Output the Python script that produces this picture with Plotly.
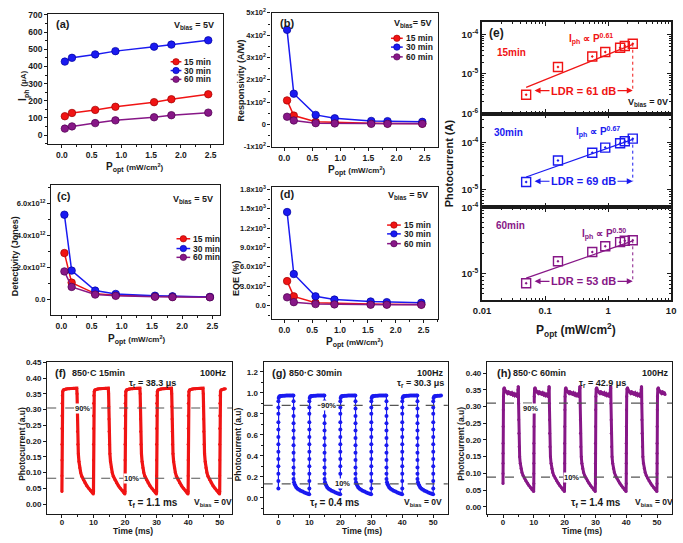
import numpy as np
import plotly.graph_objects as go

W, H = 683, 543
FONT = "Liberation Sans"
RED, BLUE, PURPLE = "#f01414", "#1a1af0", "#871787"
RED_D, BLUE_D, PURPLE_D = "#a00000", "#0000a0", "#500050"
INK = "#1a1a1a"

# ---------------- data: panels (a)-(d) ----------------
p_opt = [0.05, 0.17, 0.56, 0.90, 1.55, 1.84, 2.46]
names = ["15 min", "30 min", "60 min"]
iph_15 = [110, 129, 147, 165, 192, 209, 238]
iph_30 = [428, 450, 470, 489, 515, 527, 552]
iph_60 = [38, 51, 70, 86, 104, 116, 131]
resp_15 = [108, 40, 12, 9, 6, 5, 4]
resp_30 = [424, 138, 43, 28, 16, 15, 12]
resp_60 = [35, 18, 6, 5, 3, 3, 3]
det_15 = [2.9e12, 1.05e12, 0.36e12, 0.26e12, 0.19e12, 0.17e12, 0.15e12]
det_30 = [5.3e12, 1.8e12, 0.55e12, 0.34e12, 0.23e12, 0.19e12, 0.15e12]
det_60 = [1.75e12, 0.78e12, 0.30e12, 0.22e12, 0.16e12, 0.14e12, 0.13e12]
eqe_15 = [377, 140, 40, 30, 20, 18, 15]
eqe_30 = [1450, 487, 140, 90, 60, 50, 40]
eqe_60 = [125, 50, 20, 15, 10, 10, 8]

# ---------------- data: panel (e) ----------------
e_p = [0.05, 0.16, 0.56, 0.90, 1.55, 1.84, 2.46]
pc_15 = [3.0e-6, 1.5e-5, 2.75e-5, 3.6e-5, 4.6e-5, 5.1e-5, 5.8e-5]
pc_30 = [1.45e-5, 4.1e-5, 6.0e-5, 7.7e-5, 9.5e-5, 1.05e-4, 1.19e-4]
pc_60 = [7.2e-6, 1.55e-5, 2.13e-5, 2.6e-5, 3.0e-5, 3.15e-5, 3.2e-5]
fit_x = [0.05, 2.46]
fit_15 = [4.6e-6, 5.6e-5]
fit_30 = [1.84e-5, 1.15e-4]
fit_60 = [8.6e-6, 3.13e-5]
ldr_x = [0.068, 2.46]
ldr_y = [3.8e-6, 1.5e-5, 7.7e-6]
ldr_txt = ["LDR = 61 dB", "LDR = 69 dB", "LDR = 53 dB"]
exps = ["0.61", "0.67", "0.50"]

# ---------------- data: panels (f)-(h), one period ----------------
cycle_starts = [0, 10, 20, 30, 40, 50]
f_cyc_t = [0, 0, 0, 0, 0, 0, 0.05, 0.12, 0.25, 0.45, 0.8, 1.3, 1.8, 2.3, 2.8, 3.3, 3.8, 4.3, 4.7,
           4.8, 4.85, 4.9, 4.95, 5.05, 5.2, 5.4, 5.65, 5.95, 6.3, 6.8, 7.3, 7.9, 8.5, 9.1, 9.6, 9.95]
f_cyc_v = [0.04, 0.09, 0.14, 0.19, 0.24, 0.28, 0.32, 0.345, 0.357, 0.362, 0.364, 0.365, 0.366, 0.366,
           0.367, 0.367, 0.368, 0.368, 0.368, 0.35, 0.31, 0.27, 0.23, 0.19, 0.16, 0.135, 0.115, 0.10,
           0.088, 0.077, 0.068, 0.058, 0.05, 0.043, 0.037, 0.032]
f_tmax = 52.2
g_cyc_t = [0] * 13 + [0.1, 0.3, 0.6, 1.0, 1.5, 2.0, 2.5, 3.0, 3.5, 4.0, 4.5, 4.85] + [4.9] * 12 + \
          [5.05, 5.25, 5.5, 5.8, 6.2, 6.7, 7.2, 7.8, 8.4, 9.0, 9.5, 9.95]
g_cyc_v = [0.09, 0.16, 0.23, 0.30, 0.37, 0.44, 0.51, 0.58, 0.65, 0.72, 0.80, 0.86, 0.92] + \
          [0.95, 0.965, 0.97, 0.97, 0.972, 0.972, 0.973, 0.973, 0.974, 0.974, 0.975, 0.975] + \
          [0.92, 0.85, 0.78, 0.71, 0.64, 0.57, 0.50, 0.43, 0.36, 0.29, 0.23, 0.18] + \
          [0.15, 0.13, 0.115, 0.10, 0.088, 0.077, 0.068, 0.06, 0.052, 0.045, 0.04, 0.035]
g_tmax = 52.5
h_cyc_t = [0, 0, 0, 0, 0, 0.03, 0.08, 0.15, 0.25, 0.4, 0.6, 0.85, 1.1, 1.4, 1.7, 2.0, 2.3, 2.6, 2.9,
           3.2, 3.5, 3.8, 4.1, 4.4, 4.6, 4.75, 4.85, 4.95, 5.0, 5.05, 5.1, 5.15, 5.25, 5.4, 5.6, 5.85,
           6.15, 6.5, 6.9, 7.4, 7.9, 8.4, 8.9, 9.4, 9.95]
h_cyc_v = [0.07, 0.10, 0.13, 0.16, 0.19, 0.24, 0.29, 0.33, 0.352, 0.356, 0.35, 0.345, 0.343, 0.34,
           0.345, 0.338, 0.342, 0.336, 0.34, 0.335, 0.338, 0.333, 0.336, 0.332, 0.33, 0.335, 0.35,
           0.36, 0.355, 0.31, 0.26, 0.22, 0.18, 0.15, 0.13, 0.115, 0.103, 0.094, 0.086, 0.078,
           0.071, 0.064, 0.058, 0.052, 0.046]
h_tmax = 52.6
levels_f = [0.305, 0.082]
levels_g = [0.88, 0.133]
levels_h = [0.31, 0.089]


def tile(ct, cv, starts, tmax):
    t, v = [], []
    for s in starts:
        for a, b in zip(ct, cv):
            if s + a <= tmax:
                t.append(s + a)
                v.append(b)
    return t, v


def dx(px):
    return px / W


def dy(py):
    return 1 - py / H


def xn(k):
    return "xaxis" if k == 1 else f"xaxis{k}"


def yn(k):
    return "yaxis" if k == 1 else f"yaxis{k}"


def xr(k):
    return "x" if k == 1 else f"x{k}"


def yr(k):
    return "y" if k == 1 else f"y{k}"


# panel boxes in pixels: left, right, top, bottom
boxes = {
    1: (40, 218, 7, 140), 2: (268, 438, 6, 143), 3: (43, 215, 182, 315), 4: (268, 438, 184, 319),
    5: (483, 676, 15, 109), 6: (483, 676, 109, 205), 7: (483, 676, 205, 300),
    8: (39, 228, 363, 518), 9: (260, 448, 363, 518), 10: (488, 677, 363, 518),
}

fig = go.Figure()
layout = dict(width=W, height=H, margin=dict(l=0, r=0, t=0, b=0), paper_bgcolor="white",
              plot_bgcolor="white", showlegend=False,
              font=dict(family=FONT, size=9, color=INK, weight="bold"))


def base_axis(size=8.5):
    return dict(showline=True, linecolor=INK, linewidth=1.2, mirror=True, ticks="outside",
                ticklen=3, tickwidth=1, tickcolor=INK, showgrid=False, zeroline=False,
                tickfont=dict(size=size, family=FONT, weight="bold", color=INK))


for k, (l, r, t, b) in boxes.items():
    layout[xn(k)] = dict(domain=[dx(l), dx(r)], anchor=yr(k), **base_axis())
    layout[yn(k)] = dict(domain=[dy(b), dy(t)], anchor=xr(k), **base_axis())

xt = [0, 0.5, 1.0, 1.5, 2.0, 2.5]
xtt = ["0.0", "0.5", "1.0", "1.5", "2.0", "2.5"]
for k, rng in zip([1, 2, 3, 4], [[-0.23, 2.70], [-0.227, 2.74], [-0.17, 2.62], [-0.23, 2.76]]):
    layout[xn(k)].update(range=rng, tickvals=xt, ticktext=xtt,
                         minor=dict(ticks="outside", ticklen=2, dtick=0.25, tick0=0, tickcolor=INK))
layout["yaxis"].update(range=[-51, 706], tickvals=[0, 100, 200, 300, 400, 500, 600, 700],
                       minor=dict(ticks="outside", ticklen=2, dtick=50, tick0=0, tickcolor=INK))
layout["yaxis2"].update(range=[-100, 500], tickvals=[-100, 0, 100, 200, 300, 400, 500],
                        ticktext=["-1x10<sup>2</sup>", "0", "1x10<sup>2</sup>", "2x10<sup>2</sup>",
                                  "3x10<sup>2</sup>", "4x10<sup>2</sup>", "5x10<sup>2</sup>"],
                        tickfont=dict(size=7.5, family=FONT, weight="bold", color=INK),
                        minor=dict(ticks="outside", ticklen=2, dtick=50, tick0=0, tickcolor=INK))
layout["yaxis3"].update(range=[-0.98e12, 7.16e12], tickvals=[0, 2e12, 4e12, 6e12],
                        ticktext=["0.0", "2.0x10<sup>12</sup>", "4.0x10<sup>12</sup>", "6.0x10<sup>12</sup>"],
                        tickfont=dict(size=7.5, family=FONT, weight="bold", color=INK),
                        minor=dict(ticks="outside", ticklen=2, dtick=1e12, tick0=0, tickcolor=INK))
layout["yaxis4"].update(range=[-211, 1840], tickvals=[0, 300, 600, 900, 1200, 1500, 1800],
                        ticktext=["0.0", "3.0x10<sup>2</sup>", "6.0x10<sup>2</sup>", "9.0x10<sup>2</sup>",
                                  "1.2x10<sup>3</sup>", "1.5x10<sup>3</sup>", "1.8x10<sup>3</sup>"],
                        tickfont=dict(size=7.5, family=FONT, weight="bold", color=INK),
                        minor=dict(ticks="outside", ticklen=2, dtick=150, tick0=0, tickcolor=INK))

# panel (e) log axes
minor_x = [m * 10.0 ** d for d in (-2, -1, 0) for m in range(2, 10)]
minor_y = [m * 10.0 ** d for d in (-7, -6, -5, -4) for m in range(2, 10)]
efont = dict(size=9.5, family=FONT, weight="bold", color=INK)
for k, yrng, yv in [(5, [-6, -3.68], [1e-6, 1e-5, 1e-4]), (6, [-5.378, -3.395], [1e-5, 1e-4]),
                    (7, [-5.40, -4.0], [1e-5, 1e-4])]:
    layout[xn(k)].update(type="log", range=[-2, 1], tickvals=[0.01, 0.1, 1, 10],
                         ticktext=["0.01", "0.1", "1", "10"], ticks="inside", mirror="allticks",
                         linewidth=2.2, ticklen=4, tickwidth=1.3, showticklabels=(k == 7), tickfont=efont,
                         minor=dict(ticks="inside", ticklen=2, tickvals=minor_x, tickcolor=INK))
    layout[yn(k)].update(type="log", range=yrng, tickvals=yv,
                         ticktext=["10<sup>%d</sup>" % int(round(np.log10(v))) for v in yv],
                         ticks="inside", mirror="allticks", linewidth=2.2, ticklen=4, tickwidth=1.3,
                         tickfont=efont,
                         minor=dict(ticks="inside", ticklen=2, tickvals=minor_y, tickcolor=INK))

tx = [0, 10, 20, 30, 40, 50]
for k, rng in [(8, [-4.66, 54.0]), (9, [-4.75, 54.7]), (10, [-5.2, 54.9])]:
    layout[xn(k)].update(range=rng, tickvals=tx, ticklabelstandoff=-2,
                         tickfont=dict(size=8, family=FONT, weight="bold", color=INK),
                         minor=dict(ticks="outside", ticklen=2, dtick=5, tick0=0, tickcolor=INK))
layout["yaxis8"].update(range=[-0.030, 0.451], tickvals=[0, 0.05, 0.1, 0.15, 0.2, 0.25, 0.3, 0.35, 0.4, 0.45],
                        tickformat=".2f", tickfont=dict(size=8, family=FONT, weight="bold", color=INK))
layout["yaxis9"].update(range=[-0.149, 1.293], tickvals=[0, 0.2, 0.4, 0.6, 0.8, 1.0, 1.2],
                        tickformat=".1f", tickfont=dict(size=8, family=FONT, weight="bold", color=INK),
                        minor=dict(ticks="outside", ticklen=2, dtick=0.1, tick0=0, tickcolor=INK))
layout["yaxis10"].update(range=[-0.02, 0.433], tickvals=[0, 0.05, 0.1, 0.15, 0.2, 0.25, 0.3, 0.35, 0.4],
                         tickformat=".2f", tickfont=dict(size=8, family=FONT, weight="bold", color=INK))

cols = [RED, BLUE, PURPLE]
dcols = [RED_D, BLUE_D, PURPLE_D]

# ---- traces (a)-(d)
for k, sets in [(1, [iph_15, iph_30, iph_60]), (2, [resp_15, resp_30, resp_60]),
                (3, [det_15, det_30, det_60]), (4, [eqe_15, eqe_30, eqe_60])]:
    for vals, c, dc in zip(sets, cols, dcols):
        fig.add_trace(go.Scatter(x=p_opt, y=vals, mode="lines+markers", xaxis=xr(k), yaxis=yr(k),
                                 line=dict(color=c, width=1.5),
                                 marker=dict(size=7.5, color=c, line=dict(color=dc, width=0.7))))

# ---- traces (e)
annotations = []
for k, pc, fy, c, ly, lt in zip([5, 6, 7], [pc_15, pc_30, pc_60], [fit_15, fit_30, fit_60], cols,
                                ldr_y, ldr_txt):
    fig.add_trace(go.Scatter(x=fit_x, y=fy, mode="lines", xaxis=xr(k), yaxis=yr(k),
                             line=dict(color=c, width=1.2)))
    fig.add_trace(go.Scatter(x=[e_p[-1], e_p[-1]], y=[pc[-1], ly], mode="lines", xaxis=xr(k), yaxis=yr(k),
                             line=dict(color=c, width=1, dash="dot")))
    fig.add_trace(go.Scatter(x=e_p, y=pc, mode="markers", xaxis=xr(k), yaxis=yr(k),
                             marker=dict(symbol="square-open-dot", size=9, color=c, line=dict(width=1.4, color=c))))
    lx0, lx1 = np.log10(ldr_x[0]), np.log10(ldr_x[1])
    xm = (lx0 + lx1) / 2
    lyl = np.log10(ly)
    for tip in (lx0, lx1):
        annotations.append(dict(x=tip, y=lyl, ax=xm, ay=lyl, xref=xr(k), yref=yr(k), axref=xr(k),
                                ayref=yr(k), text="", showarrow=True, arrowhead=2, arrowsize=1,
                                arrowwidth=1.2, arrowcolor=c, standoff=0))
    annotations.append(dict(x=xm, y=lyl, xref=xr(k), yref=yr(k), text=lt, showarrow=False,
                            bgcolor="white", borderpad=1, font=dict(size=11, color=c)))

# ---- traces (f)-(h)
shapes = []
for k, ct, cv, tm, c, lw, ms, lev in [(8, f_cyc_t, f_cyc_v, f_tmax, RED, 3.2, 3, levels_f),
                                      (9, g_cyc_t, g_cyc_v, g_tmax, BLUE, 1.2, 4, levels_g),
                                      (10, h_cyc_t, h_cyc_v, h_tmax, PURPLE, 3.0, 3, levels_h)]:
    tt, vv = tile(ct, cv, cycle_starts, tm)
    fig.add_trace(go.Scatter(x=tt, y=vv, mode="lines+markers", xaxis=xr(k), yaxis=yr(k),
                             line=dict(color=c, width=lw), marker=dict(size=ms, color=c)))
    for lv in lev:
        shapes.append(dict(type="line", xref=f"{xr(k)} domain", x0=0, x1=1, yref=yr(k), y0=lv, y1=lv,
                           line=dict(color="#555555", width=1.2, dash="dash"), layer="above"))


def txt(px, py, text, size=9, color=INK, xanchor="center", angle=0, bg=None):
    d = dict(x=dx(px), y=dy(py), xref="paper", yref="paper", text=text, showarrow=False,
             xanchor=xanchor, yanchor="middle", font=dict(size=size, color=color), textangle=angle)
    if bg:
        d["bgcolor"] = bg
        d["borderpad"] = 0
    annotations.append(d)


POPT = "P<sub>opt</sub> <span style='font-size:8px'>(mW/cm<sup>2</sup>)</span>"
# panel (a)-(d) texts
txt(55, 17, "(a)", 11)
txt(189, 19, "V<sub>bias</sub> = 5V", 9)
txt(15, 81, "I<sub>ph</sub> <span style='font-size:8px'>(μA)</span>", 10, angle=-90)
txt(129, 164, POPT, 10)
txt(284, 16, "(b)", 11)
txt(412, 17, "V<sub>bias</sub>= 5V", 9)
txt(237, 75, "Responsivity (A/W)", 9, angle=-90)
txt(355, 167, POPT, 10)
txt(56, 193, "(c)", 11)
txt(188, 197, "V<sub>bias</sub> = 5V", 9)
txt(7, 255, "Detectivity (Jones)", 9, angle=-90)
txt(131, 340, POPT, 10)
txt(284, 191, "(d)", 11)
txt(407, 193, "V<sub>bias</sub> = 5V", 9)
txt(232, 277, "EQE (%)", 9, angle=-90)
txt(353, 343, POPT, 10)

# manual legends
leg = {1: (167, 176, [56, 65, 74]), 2: (392, 402, [32, 41, 51]), 3: (173, 185, [237, 247, 256]),
       4: (388, 400, [223, 232, 242])}
for k, (x0, x1, rows) in leg.items():
    for yy, c, dc, nm in zip(rows, cols, dcols, names):
        shapes.append(dict(type="line", xref="paper", yref="paper", x0=dx(x0 - 2), x1=dx(x1),
                           y0=dy(yy), y1=dy(yy), line=dict(color=c, width=1.5)))
        xc = (x0 - 2 + x1) / 2
        shapes.append(dict(type="circle", xref="paper", yref="paper", x0=dx(xc - 3.3), x1=dx(xc + 3.3),
                           y0=dy(yy + 3.3), y1=dy(yy - 3.3), fillcolor=c, line=dict(color=dc, width=0.6)))
        txt(x1 + 1, yy, nm, 8.5, xanchor="left")

# panel (e) texts
txt(498, 27, "(e)", 12)
txt(513, 47, "15min", 10, RED)
txt(594, 33, "I<sub>ph</sub> ∝ P<sup>" + exps[0] + "</sup>", 10, RED)
txt(652, 98, "V<sub>bias</sub> = 0V", 9)
txt(510, 128, "30min", 10, BLUE)
txt(601, 128, "I<sub>ph</sub> ∝ P<sup>" + exps[1] + "</sup>", 10, BLUE)
txt(512, 223, "60min", 10, PURPLE)
txt(607, 232, "I<sub>ph</sub> ∝ P<sup>" + exps[2] + "</sup>", 10, PURPLE)
txt(450, 160, "Photocurrent (A)", 11, angle=-90)
txt(579, 330, "P<sub>opt</sub> (mW/cm<sup>2</sup>)", 12)

# panel (f)-(h) texts
for (lab, sub, tr, tf, px0, ytx, ttl_x, ttx_x, p90, p10, ptr, ptf, pv, phz) in [
    ("(f)", "850·C 15min", "38.3 μs", "1.1 ms", 53, 13, 127, 91, (75, 411), (125, 482), 146, 147, 208, 209),
    ("(g)", "850·C 30min", "30.3 μs", "0.4 ms", 276, 234, 360, 313, (326, 407), (340, 487), 420, 333, 423, 430),
    ("(h)", "850·C 60min", "42.9 μs", "1.4 ms", 505, 462, 585, 542, (532, 411), (574, 481), 606, 599, 659, 660),
]:
    txt(px0, 374, lab, 11)
    txt(ttx_x, 374, sub, 9)
    txt(phz, 374, "100Hz", 9)
    txt(ptr, 385, "τ<sub>r</sub> = " + tr, 9)
    txt(p90[0], p90[1], "90%", 7.5, bg="white")
    txt(p10[0], p10[1], "10%", 7.5, bg="white")
    txt(ptf, 507, "τ<sub>f</sub> = " + tf, 10)
    txt(pv, 507, "V<sub>bias</sub> = 0V", 8.5)
    txt(ytx, 447, "Photocurrent (a.u)", 8.5, angle=-90)
    txt(ttl_x, 535.5, "Time (ms)", 8.5)

layout["annotations"] = annotations
layout["shapes"] = shapes
fig.update_layout(**layout)
fig.write_html("out.html", config={"displayModeBar": False},
               post_script="document.body.style.margin='0';document.body.style.padding='0';")
